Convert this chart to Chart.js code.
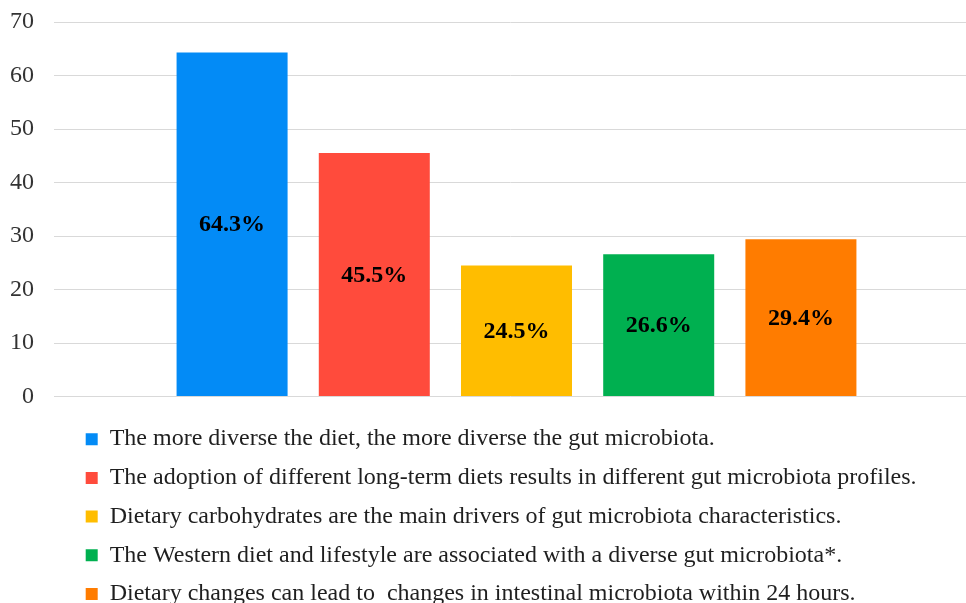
<!DOCTYPE html>
<html>
<head>
<meta charset="utf-8">
<script src="https://cdn.jsdelivr.net/npm/chart.js@4.4.1/dist/chart.umd.min.js"></script>
<style>
  html, body { margin: 0; padding: 0; background: #ffffff; }
  canvas { display: block; }
</style>
</head>
<body>
<canvas id="chart" width="966" height="603"></canvas>
<script>
// Survey statements (one bar each) and the share of respondents agreeing, in %
const statements = [
  'The more diverse the diet, the more diverse the gut microbiota.',
  'The adoption of different long-term diets results in different gut microbiota profiles.',
  'Dietary carbohydrates are the main drivers of gut microbiota characteristics.',
  'The Western diet and lifestyle are associated with a diverse gut microbiota*.',
  'Dietary changes can lead to  changes in intestinal microbiota within 24 hours.'
];
const shares = [64.3, 45.5, 24.5, 26.6, 29.4];
const barColors = ['#038BF6', '#FF4B3C', '#FFBD00', '#00B050', '#FF7C00'];
const yTickValues = [0, 10, 20, 30, 40, 50, 60, 70];

const SERIF = '"Liberation Serif", "Times New Roman", serif';

// Percentage label printed in the middle of each bar
const barValueLabels = {
  id: 'barValueLabels',
  afterDatasetsDraw(chart) {
    const ctx = chart.ctx;
    ctx.save();
    ctx.font = 'bold 24px ' + SERIF;
    ctx.fillStyle = '#000000';
    ctx.textAlign = 'center';
    ctx.textBaseline = 'middle';
    chart.data.datasets.forEach((ds, i) => {
      const bar = chart.getDatasetMeta(i).data[0];
      if (!bar) return;
      const v = ds.data[0];
      ctx.fillText(v.toFixed(1) + '%', bar.x, (bar.y + bar.base) / 2 + 1);
    });
    ctx.restore();
  }
};

// Widen the plot slightly past the right edge and put the stacked
// legend rows under the plot, indented from the left edge
const layoutTweaks = {
  id: 'layoutTweaks',
  afterLayout(chart) {
    const extra = 13;
    const xs = chart.scales.x;
    xs.right += extra;
    xs.width += extra;
    xs.configure();
    chart.chartArea.right += extra;
    chart.chartArea.width += extra;
    const lg = chart.legend;
    if (!lg) return;
    lg.left = 71;
    lg.top = chart.chartArea.bottom + 16;
  }
};

const datasets = statements.map((label, i) => ({
  label: label,
  data: [shares[i]],
  backgroundColor: barColors[i],
  borderWidth: 0,
  categoryPercentage: 0.7687,
  barPercentage: 0.7806
}));

new Chart(document.getElementById('chart'), {
  type: 'bar',
  data: { labels: [''], datasets: datasets },
  options: {
    responsive: false,
    animation: false,
    layout: { padding: { left: 10, right: 0, top: 22, bottom: -5 } },
    plugins: {
      tooltip: { enabled: false },
      legend: {
        position: 'bottom',
        align: 'start',
        labels: {
          boxWidth: 12,
          boxHeight: 12,
          padding: 14.7,
          color: '#1F1F1F',
          font: { family: SERIF, size: 24 }
        }
      }
    },
    scales: {
      x: {
        grid: { display: false },
        border: { display: false },
        ticks: { display: false }
      },
      y: {
        min: 0,
        max: 70,
        afterBuildTicks(axis) {
          axis.ticks = yTickValues.map(v => ({ value: v }));
        },
        afterFit(axis) {
          axis.width = 44;
          axis.paddingTop = 0;
          axis.paddingBottom = 0;
        },
        grid: { color: '#D9D9D9', lineWidth: 1, drawTicks: false },
        border: { display: false },
        ticks: {
          padding: 20,
          color: '#333333',
          font: { family: SERIF, size: 24 }
        }
      }
    }
  },
  plugins: [barValueLabels, layoutTweaks]
});
</script>
</body>
</html>
